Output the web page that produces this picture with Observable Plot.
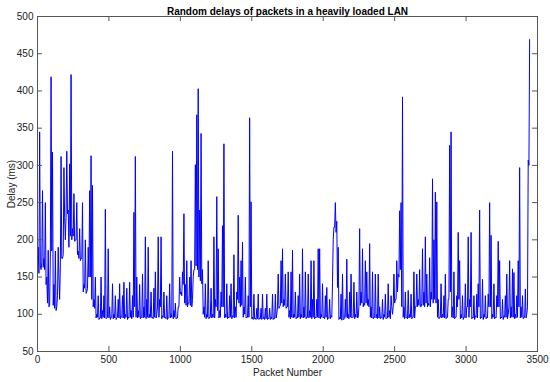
<!DOCTYPE html>
<html>
<head>
<meta charset="utf-8">
<script src="https://cdn.jsdelivr.net/npm/d3@7"></script>
<script src="https://cdn.jsdelivr.net/npm/@observablehq/plot@0.6"></script>
<style>
  html, body { margin: 0; padding: 0; background: #fff; }
  #chart svg { display: block; }
</style>
</head>
<body>
<div id="chart"></div>
<script>
const titleText = "Random delays of packets in a heavily loaded LAN";
const xLabel = "Packet Number";
const yLabel = "Delay (ms)";
const xTicks = [0, 500, 1000, 1500, 2000, 2500, 3000, 3500];
const yTicks = [50, 100, 150, 200, 250, 300, 350, 400, 450, 500];
const binSize = 10;
// lowest delay (ms) seen in each bin of 10 packets
const binLows = [
  170, 155, 165, 170, 163, 160, 140, 115, 110, 181,
  185, 112, 108, 105, 125, 150, 165, 175, 180, 230,
  232, 235, 190, 205, 200, 205, 198, 200, 180, 175,
  172, 175, 130, 135, 128, 135, 150, 150, 120, 110,
  108, 95, 96, 93, 95, 94, 96, 95, 94, 96,
  95, 93, 96, 94, 95, 93, 96, 95, 94, 96,
  95, 94, 96, 93, 95, 96, 94, 96, 110, 96,
  95, 96, 94, 96, 95, 96, 94, 96, 95, 96,
  95, 94, 96, 95, 110, 96, 110, 94, 96, 95,
  94, 93, 96, 95, 96, 94, 96, 94, 95, 110,
  127, 125, 140, 115, 112, 110, 115, 112, 110, 150,
  160, 165, 160, 150, 145, 141, 100, 96, 94, 96,
  94, 96, 95, 96, 95, 110, 105, 95, 96, 110,
  110, 95, 96, 94, 95, 96, 94, 96, 95, 96,
  120, 115, 110, 112, 96, 100, 95, 96, 96, 110,
  94, 93, 94, 93, 94, 93, 94, 93, 94, 93,
  94, 93, 94, 93, 94, 93, 94, 95, 110, 108,
  112, 115, 110, 112, 108, 110, 96, 94, 96, 95,
  96, 94, 95, 96, 94, 96, 95, 96, 94, 96,
  95, 96, 94, 96, 94, 95, 96, 95, 94, 96,
  95, 94, 96, 93, 95, 94, 96, 200, 217, 210,
  136, 93, 94, 92, 93, 94, 96, 95, 94, 96,
  95, 96, 94, 96, 95, 110, 112, 115, 110, 112,
  115, 112, 110, 96, 95, 94, 96, 95, 94, 95,
  94, 95, 93, 96, 94, 95, 96, 94, 110, 110,
  115, 120, 130, 150, 160, 110, 96, 94, 95, 94,
  95, 96, 94, 96, 95, 110, 110, 112, 110, 115,
  112, 110, 115, 110, 112, 110, 120, 115, 120, 115,
  96, 94, 96, 95, 96, 95, 94, 96, 120, 130,
  96, 95, 94, 96, 110, 120, 94, 95, 93, 96,
  95, 110, 96, 110, 94, 95, 93, 96, 95, 110,
  94, 95, 93, 96, 94, 95, 110, 110, 94, 96,
  94, 95, 110, 110, 94, 95, 93, 96, 96, 94,
  110, 95, 96, 96, 94, 95, 96, 110, 95, 96,
  94, 96, 95, 110, 300
];
// highest delay (ms) seen in each bin of 10 packets
const binHighs = [
  190, 345, 160, 266, 175, 250, 150, 186, 112, 419,
  318, 140, 185, 110, 190, 120, 312, 175, 297, 200,
  319, 240, 302, 422, 215, 262, 200, 250, 185, 215,
  175, 250, 140, 200, 130, 190, 266, 313, 273, 120,
  150, 100, 125, 95, 150, 105, 125, 241, 95, 188,
  110, 96, 141, 100, 125, 95, 120, 141, 97, 125,
  143, 100, 135, 96, 143, 105, 125, 237, 312, 150,
  105, 140, 96, 154, 110, 204, 120, 190, 100, 130,
  96, 135, 157, 100, 204, 120, 204, 98, 130, 96,
  125, 95, 141, 100, 319, 105, 115, 95, 110, 150,
  130, 157, 235, 140, 172, 115, 150, 172, 120, 160,
  301, 368, 403, 240, 343, 160, 110, 141, 100, 172,
  96, 135, 100, 204, 120, 258, 188, 105, 130, 219,
  329, 100, 141, 96, 125, 141, 98, 180, 110, 130,
  233, 150, 172, 197, 110, 150, 96, 125, 364, 251,
  96, 127, 95, 108, 127, 95, 108, 127, 96, 108,
  127, 95, 108, 96, 127, 95, 127, 100, 154, 110,
  172, 188, 120, 154, 110, 157, 105, 157, 186, 100,
  130, 96, 125, 154, 100, 188, 110, 157, 96, 154,
  105, 172, 120, 172, 96, 120, 188, 188, 100, 141,
  96, 125, 136, 95, 120, 98, 143, 217, 250, 225,
  190, 96, 127, 154, 93, 120, 174, 100, 130, 154,
  96, 143, 100, 130, 96, 215, 130, 188, 115, 172,
  157, 120, 195, 110, 157, 96, 154, 100, 154, 110,
  96, 120, 100, 127, 95, 141, 105, 125, 100, 154,
  120, 172, 154, 239, 250, 392, 110, 130, 96, 132,
  100, 127, 96, 157, 110, 154, 120, 160, 110, 188,
  130, 204, 154, 115, 176, 130, 282, 200, 264, 251,
  120, 96, 141, 100, 125, 154, 96, 120, 327, 345,
  110, 157, 96, 125, 210, 172, 100, 125, 96, 141,
  110, 204, 120, 210, 96, 125, 98, 127, 141, 240,
  96, 147, 100, 125, 96, 127, 250, 206, 100, 141,
  96, 125, 198, 172, 96, 120, 98, 125, 154, 100,
  172, 110, 161, 156, 100, 125, 172, 297, 110, 125,
  96, 134, 100, 307, 469
];

// each bin contributes its low reading then its high reading
const data = binLows.flatMap((lo, i) => [
  {packet: i * binSize, delay: lo},
  {packet: i * binSize + binSize / 2, delay: binHighs[i]}
]);

const W = 550, H = 382;
const mTop = 16, mRight = 13, mBottom = 31, mLeft = 37;
const innerH = H - mTop - mBottom;
const innerW = W - mLeft - mRight;
const tick = 5;

const chart = Plot.plot({
  width: W,
  height: H,
  marginTop: mTop,
  marginRight: mRight,
  marginBottom: mBottom,
  marginLeft: mLeft,
  style: {fontFamily: "'Liberation Sans', Arial, sans-serif", fontSize: "10px", color: "#222", background: "#fff"},
  x: {domain: [0, 3500], ticks: xTicks, tickFormat: "d"},
  y: {domain: [50, 500], ticks: yTicks, tickFormat: "d"},
  marks: [
    Plot.line(data, {x: "packet", y: "delay", stroke: "#0000ff", strokeWidth: 1}),
    Plot.frame({stroke: "#555"}),
    Plot.tickX(xTicks, {x: d => d, insetTop: innerH - tick, stroke: "#555"}),
    Plot.tickX(xTicks, {x: d => d, insetBottom: innerH - tick, stroke: "#555"}),
    Plot.tickY(yTicks, {y: d => d, insetRight: innerW - tick, stroke: "#555"}),
    Plot.tickY(yTicks, {y: d => d, insetLeft: innerW - tick, stroke: "#555"}),
    Plot.axisX({ticks: xTicks, tickFormat: "d", tickSize: 0, tickPadding: 4, label: xLabel, labelAnchor: "center", labelArrow: "none", labelOffset: 24, fontSize: 10}),
    Plot.axisY({ticks: yTicks, tickFormat: "d", tickSize: 0, tickPadding: 4, label: yLabel, labelAnchor: "center", labelArrow: "none", labelOffset: 30, fontSize: 10}),
    Plot.text([titleText], {text: d => d, frameAnchor: "top", dy: -9, fontWeight: "bold", fontSize: 10, fill: "#000"})
  ]
});
document.getElementById("chart").appendChild(chart);
</script>
</body>
</html>
